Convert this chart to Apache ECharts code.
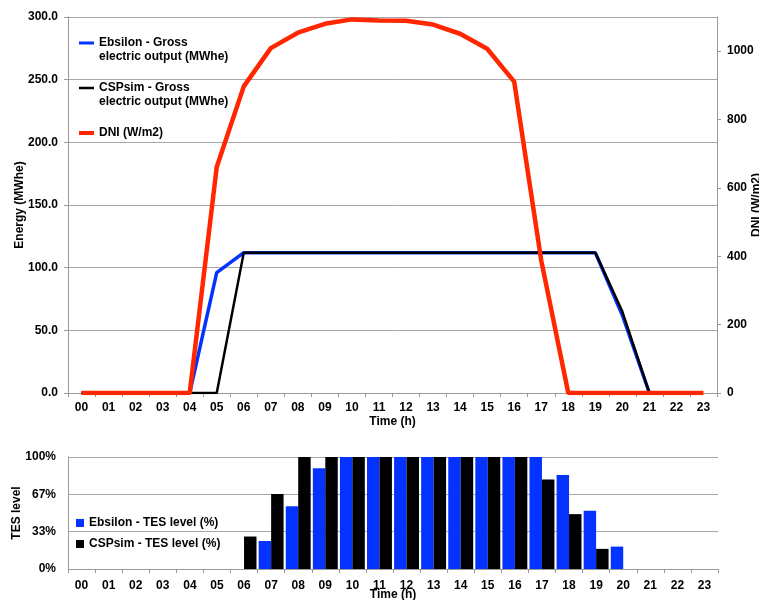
<!DOCTYPE html>
<html>
<head>
<meta charset="utf-8">
<script src="https://cdn.jsdelivr.net/npm/echarts@6/dist/echarts.min.js"></script>
<style>html,body{margin:0;padding:0;background:#fff}#c{width:759px;height:600px}</style>
</head>
<body>
<div id="c"></div>
<script>
const hours = ['00','01','02','03','04','05','06','07','08','09','10','11','12','13','14','15','16','17','18','19','20','21','22','23'];
const ebsilonGross = [0,0,0,0,0,96,112,112,112,112,112,112,112,112,112,112,112,112,112,112,62,0,null,null];
const cspsimGross  = [0,0,0,0,0,0,112,112,112,112,112,112,112,112,112,112,112,112,112,112,65,0,null,null];
const dni = [0,0,0,0,0,661,897,1009,1054,1080,1093,1090,1089,1078,1051,1007,911,388,0,0,0,0,0,0];
const ebsilonTES = [0,0,0,0,0,0,0,25,56,90,100,100,100,100,100,100,100,100,84,52,20,0,0,0];
const cspsimTES  = [0,0,0,0,0,0,29,67,100,100,100,100,100,100,100,100,100,80,49,18,0,0,0,0];
const energyTicks = [0,50,100,150,200,250,300];
const dniTicks = [0,200,400,600,800,1000];
const tesTicks = ['0%','33%','67%','100%'];

const FONT = '"Liberation Sans", Arial, sans-serif';
const BLUE = '#0433FF', RED = '#FF2600', BLACK = '#000000';
const AXIS = '#9a9a9a', GRID = '#a8a8a8';
const lbl = {color:'#000', fontWeight:'bold', fontSize:12, fontFamily:FONT};
const nm = {color:'#000', fontWeight:'bold', fontSize:12, fontFamily:FONT};

const chart = echarts.init(document.getElementById('c'), null, {renderer:'canvas'});
const legText = {color:'#000', fontWeight:'bold', fontSize:12, fontFamily:FONT, lineHeight:14};
const twoLine = s => ' \n' + s.replace(' - Gross ', ' - Gross\n');

chart.setOption({
  animation:false,
  backgroundColor:'#fff',
  grid:[
    {left:68, right:42, top:17, height:376, containLabel:false, outerBoundsMode:'none'},
    {left:68, right:41, top:457, height:112, containLabel:false, outerBoundsMode:'none'}
  ],
  legend:[
    {data:['Ebsilon - Gross electric output (MWhe)'], left:74, top:17, orient:'vertical', itemWidth:15, itemHeight:3, icon:'rect', formatter:twoLine, itemStyle:{color:BLUE}, textStyle:legText},
    {data:['CSPsim - Gross electric output (MWhe)'], left:74, top:62, orient:'vertical', itemWidth:15, itemHeight:2.5, icon:'rect', formatter:twoLine, itemStyle:{color:BLACK}, textStyle:legText},
    {data:['DNI (W/m2)'], left:74, top:121, itemWidth:15, itemHeight:4, icon:'rect', itemStyle:{color:RED}, textStyle:legText},
    {data:['Ebsilon - TES level (%)','CSPsim - TES level (%)'], left:71, top:511, orient:'vertical', itemGap:7, itemWidth:8, itemHeight:8, icon:'rect', textStyle:legText}
  ],
  xAxis:[
    {type:'category', gridIndex:0, data:hours, boundaryGap:true,
     name:'Time (h)', nameLocation:'middle', nameGap:23, nameMoveOverlap:false, nameTextStyle:nm,
     axisLine:{lineStyle:{color:AXIS, width:1}},
     axisTick:{show:true, interval:0, length:4, lineStyle:{color:AXIS}},
     axisLabel:Object.assign({interval:0, margin:9}, lbl),
     splitLine:{show:false}},
    {type:'category', gridIndex:1, data:hours, boundaryGap:true,
     name:'Time (h)', nameLocation:'middle', nameGap:20, nameMoveOverlap:false, nameTextStyle:nm,
     axisLine:{lineStyle:{color:AXIS, width:1}},
     axisTick:{show:true, interval:0, length:4, lineStyle:{color:AXIS}},
     axisLabel:Object.assign({interval:0, margin:11}, lbl),
     splitLine:{show:false}}
  ],
  yAxis:[
    {type:'value', gridIndex:0, min:energyTicks[0], max:energyTicks[energyTicks.length-1], interval:50,
     name:'Energy (MWhe)', nameLocation:'middle', nameGap:42, nameRotate:90, nameMoveOverlap:false, nameTextStyle:nm,
     axisLine:{show:true, lineStyle:{color:AXIS}},
     axisTick:{show:true, length:4, lineStyle:{color:AXIS}},
     axisLabel:Object.assign({margin:10, formatter:v=>v.toFixed(1)}, lbl),
     splitLine:{show:true, lineStyle:{color:GRID, width:1}}},
    {type:'value', gridIndex:0, position:'right', min:dniTicks[0], max:1100, interval:200,
     name:'DNI (W/m2)', nameLocation:'middle', nameGap:34, nameRotate:90, nameMoveOverlap:false, nameTextStyle:nm,
     axisLine:{show:true, lineStyle:{color:AXIS}},
     axisTick:{show:true, length:4, lineStyle:{color:AXIS}},
     axisLabel:Object.assign({margin:10, showMaxLabel:false, formatter:v=>String(v)}, lbl),
     splitLine:{show:false}},
    {type:'value', gridIndex:1, min:0, max:100, interval:100/3,
     name:'TES level', nameLocation:'middle', nameGap:45, nameRotate:90, nameMoveOverlap:false, nameTextStyle:nm,
     axisLine:{show:true, lineStyle:{color:AXIS}},
     axisTick:{show:false},
     axisLabel:Object.assign({margin:12, formatter:v=>tesTicks[Math.round(v/(100/3))]}, lbl),
     splitLine:{show:true, lineStyle:{color:GRID, width:1}}}
  ],
  series:[
    {name:'Ebsilon - Gross electric output (MWhe)', type:'line', xAxisIndex:0, yAxisIndex:0, data:ebsilonGross,
     showSymbol:false, symbol:'none', lineStyle:{color:BLUE, width:3.5}, itemStyle:{color:BLUE}, z:3},
    {name:'CSPsim - Gross electric output (MWhe)', type:'line', xAxisIndex:0, yAxisIndex:0, data:cspsimGross,
     showSymbol:false, symbol:'none', lineStyle:{color:BLACK, width:2.5}, itemStyle:{color:BLACK}, z:4},
    {name:'DNI (W/m2)', type:'line', xAxisIndex:0, yAxisIndex:1, data:dni,
     showSymbol:false, symbol:'none', lineStyle:{color:RED, width:4.5}, itemStyle:{color:RED}, z:5},
    {name:'Ebsilon - TES level (%)', type:'bar', xAxisIndex:1, yAxisIndex:2, data:ebsilonTES,
     barGap:'0%', barCategoryGap:'8%', itemStyle:{color:BLUE}},
    {name:'CSPsim - TES level (%)', type:'bar', xAxisIndex:1, yAxisIndex:2, data:cspsimTES,
     barGap:'0%', barCategoryGap:'8%', itemStyle:{color:BLACK}}
  ]
});
</script>
</body>
</html>
